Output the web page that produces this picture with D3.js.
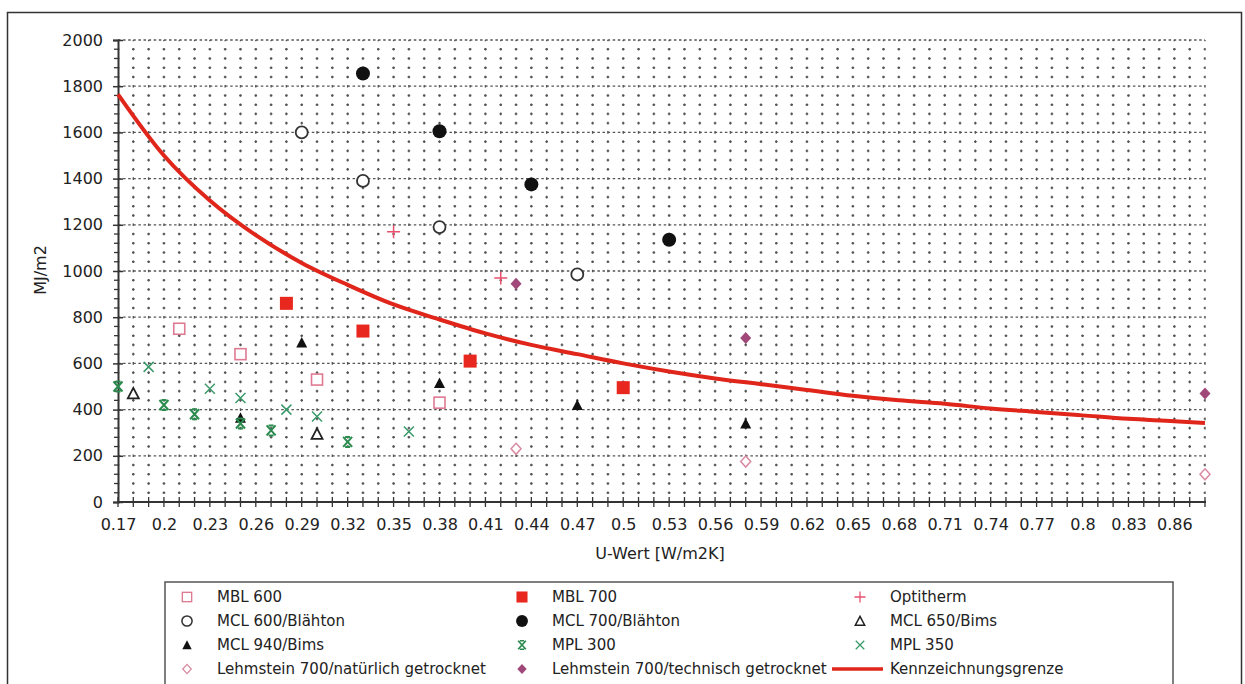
<!DOCTYPE html>
<html>
<head>
<meta charset="utf-8">
<script src="https://cdn.jsdelivr.net/npm/d3@7"></script>
<style>
body { margin: 0; background: #fff; }
text { font-family: "DejaVu Sans", sans-serif; fill: #222; }
</style>
</head>
<body>
<script>
// values
var mbl600U = [0.21, 0.25, 0.30, 0.38];
var mbl600E = [750, 640, 530, 430];
var mbl700U = [0.28, 0.33, 0.40, 0.50];
var mbl700E = [860, 740, 610, 495];
var optiU = [0.35, 0.42];
var optiE = [1170, 970];
var mcl600U = [0.29, 0.33, 0.38, 0.47];
var mcl600E = [1600, 1390, 1190, 985];
var mcl700U = [0.33, 0.38, 0.44, 0.53];
var mcl700E = [1855, 1605, 1375, 1135];
var mcl650U = [0.18, 0.30];
var mcl650E = [470, 295];
var mcl940U = [0.25, 0.29, 0.38, 0.47, 0.58];
var mcl940E = [365, 690, 515, 420, 340];
var mpl300U = [0.17, 0.20, 0.22, 0.25, 0.27, 0.32];
var mpl300E = [500, 420, 380, 340, 310, 260];
var mpl350U = [0.19, 0.23, 0.25, 0.28, 0.30, 0.36];
var mpl350E = [585, 490, 450, 400, 370, 305];
var lehmNatU = [0.43, 0.58, 0.88];
var lehmNatE = [230, 175, 120];
var lehmTechU = [0.43, 0.58, 0.88];
var lehmTechE = [945, 710, 470];
// Kennzeichnungsgrenze read at the ticks
var grenzeU = [0.17, 0.20, 0.23, 0.26, 0.29, 0.32, 0.35, 0.38, 0.41, 0.44, 0.47, 0.50, 0.53, 0.56, 0.59, 0.62, 0.65, 0.68, 0.71, 0.74, 0.77, 0.80, 0.83, 0.86, 0.88];
var grenzeE = [1765, 1500, 1305, 1155, 1035, 940, 855, 790, 730, 680, 640, 600, 565, 535, 510, 485, 460, 440, 425, 405, 390, 375, 360, 350, 342];
var xTicks = ["0.17","0.2","0.23","0.26","0.29","0.32","0.35","0.38","0.41","0.44","0.47","0.5","0.53","0.56","0.59","0.62","0.65","0.68","0.71","0.74","0.77","0.8","0.83","0.86"];
var yTicks = [0, 200, 400, 600, 800, 1000, 1200, 1400, 1600, 1800, 2000];

var width = 1245, height = 684;
var svg = d3.select("body").append("svg").attr("width", width).attr("height", height);

// outer frame
svg.append("rect").attr("x", 7.5).attr("y", 12.5).attr("width", 1234).attr("height", 690)
  .attr("fill", "none").attr("stroke", "#333").attr("stroke-width", 1.5);

var x = d3.scaleLinear().domain([0.17, 0.88]).range([118, 1205]);
var y = d3.scaleLinear().domain([0, 2000]).range([502, 40]);

var colStep = x(0.18) - x(0.17);
var rowStep = y(0) - y(40);

// grid: dots on the 0.01 verticals at every 40 row, plus dashed majors
var g = svg.append("g");
var vGrid = d3.range(18, 89).map(function(d) { return d / 100; });
g.selectAll(".vg").data(vGrid).enter().append("line")
  .attr("x1", d => x(d)).attr("x2", d => x(d)).attr("y1", y(2000)).attr("y2", y(0))
  .attr("stroke", "#555").attr("stroke-width", 1.4)
  .attr("stroke-dasharray", "2.6," + (rowStep - 2.6)).attr("stroke-dashoffset", 1.3);
var hMinor = d3.range(40, 2000, 40).filter(d => d % 200 != 0);
g.selectAll(".hg").data(hMinor).enter().append("line")
  .attr("x1", x(0.17)).attr("x2", x(0.88)).attr("y1", d => y(d)).attr("y2", d => y(d))
  .attr("stroke", "#555").attr("stroke-width", 1.4)
  .attr("stroke-dasharray", "2.6," + (colStep - 2.6)).attr("stroke-dashoffset", 1.3);
g.selectAll(".hm").data(yTicks.slice(1)).enter().append("line")
  .attr("x1", x(0.17)).attr("x2", x(0.88)).attr("y1", d => y(d)).attr("y2", d => y(d))
  .attr("stroke", "#555").attr("stroke-width", 1.3).attr("stroke-dasharray", "2.5,2.6");

// axes
var yAxis = d3.axisLeft(y).tickValues(yTicks).tickFormat(d3.format("d")).tickSize(5);
var ya = svg.append("g").attr("transform", "translate(118,0)").call(yAxis);
ya.select(".domain").attr("stroke", "#333").attr("stroke-width", 2);
ya.selectAll(".tick line").attr("x2", 5).attr("x1", -5).attr("stroke", "#333").attr("stroke-width", 1.5);
ya.selectAll("text").style("font-size", "16px").attr("x", -15);
ya.selectAll(".mt").data(hMinor).enter().append("line").attr("class", "mt")
  .attr("x1", -4).attr("x2", 0).attr("y1", d => y(d)).attr("y2", d => y(d)).attr("stroke", "#333").attr("stroke-width", 1.3);

var xAxis = d3.axisBottom(x).tickValues(xTicks.map(Number)).tickFormat((d, i) => xTicks[i]).tickSize(5).tickPadding(12);
var xa = svg.append("g").attr("transform", "translate(0,502)").call(xAxis);
xa.select(".domain").remove();
xa.append("line").attr("x1", 118).attr("x2", 1206).attr("stroke", "#333").attr("stroke-width", 2);
xa.selectAll(".tick line").remove();
xa.selectAll(".xt").data(vGrid.concat([0.17])).enter().append("line")
  .attr("x1", d => x(d)).attr("x2", d => x(d)).attr("y1", -5).attr("y2", 5).attr("stroke", "#333").attr("stroke-width", 1.3);
xa.selectAll("text").style("font-size", "16px");

svg.append("text").attr("transform", "translate(46,270) rotate(-90)").attr("text-anchor", "middle")
  .style("font-size", "16px").text("MJ/m2");
svg.append("text").attr("x", 660).attr("y", 559).attr("text-anchor", "middle")
  .style("font-size", "16px").text("U-Wert [W/m2K]");

// curve
var line = d3.line().x(d => x(d[0])).y(d => y(d[1])).curve(d3.curveMonotoneX);
svg.append("path").datum(grenzeU.map((u, i) => [u, grenzeE[i]]))
  .attr("d", line).attr("fill", "none").attr("stroke", "#e0261b").attr("stroke-width", 4);

// marker drawing
function marker(sel, type, col) {
  if (type == "sqOpen") sel.append("rect").attr("x", -5.5).attr("y", -5.5).attr("width", 11).attr("height", 11).attr("fill", "#fff").attr("stroke", col).attr("stroke-width", 1.6);
  if (type == "sqFill") sel.append("rect").attr("x", -6.5).attr("y", -6.5).attr("width", 13).attr("height", 13).attr("fill", col);
  if (type == "plus") sel.append("path").attr("d", "M-6.5,0H6.5M0,-6.5V6.5").attr("stroke", col).attr("stroke-width", 1.5);
  if (type == "circOpen") sel.append("circle").attr("r", 6).attr("fill", "#fff").attr("stroke", col).attr("stroke-width", 1.8);
  if (type == "circFill") sel.append("circle").attr("r", 7).attr("fill", col);
  if (type == "triOpen") sel.append("path").attr("d", "M0,-5.5L5.5,5L-5.5,5Z").attr("fill", "#fff").attr("stroke", col).attr("stroke-width", 1.8);
  if (type == "triFill") sel.append("path").attr("d", "M0,-5.5L5.5,5L-5.5,5Z").attr("fill", col);
  if (type == "xBold") sel.append("path").attr("d", "M-4.5,-5L4.5,5M4.5,-5L-4.5,5M-2.5,-5H2.5M-2.5,5H2.5").attr("stroke", col).attr("stroke-width", 2);
  if (type == "x") sel.append("path").attr("d", "M-5,-5L5,5M5,-5L-5,5").attr("stroke", col).attr("stroke-width", 1.5);
  if (type == "diaOpen") sel.append("path").attr("d", "M0,-5.5L5,0L0,5.5L-5,0Z").attr("fill", "#fff").attr("stroke", col).attr("stroke-width", 1.5);
  if (type == "diaFill") sel.append("path").attr("d", "M0,-6L5.5,0L0,6L-5.5,0Z").attr("fill", col);
}

var series = [
  { name: "MBL 600", u: mbl600U, e: mbl600E, type: "sqOpen", col: "#e07a92" },
  { name: "MBL 700", u: mbl700U, e: mbl700E, type: "sqFill", col: "#e8271e" },
  { name: "Optitherm", u: optiU, e: optiE, type: "plus", col: "#e8506e" },
  { name: "MCL 600/Blähton", u: mcl600U, e: mcl600E, type: "circOpen", col: "#333" },
  { name: "MCL 700/Blähton", u: mcl700U, e: mcl700E, type: "circFill", col: "#111" },
  { name: "MCL 650/Bims", u: mcl650U, e: mcl650E, type: "triOpen", col: "#222" },
  { name: "MCL 940/Bims", u: mcl940U, e: mcl940E, type: "triFill", col: "#111" },
  { name: "MPL 300", u: mpl300U, e: mpl300E, type: "xBold", col: "#2b8a4e" },
  { name: "MPL 350", u: mpl350U, e: mpl350E, type: "x", col: "#3a9a6a" },
  { name: "Lehmstein 700/natürlich getrocknet", u: lehmNatU, e: lehmNatE, type: "diaOpen", col: "#d98aa2" },
  { name: "Lehmstein 700/technisch getrocknet", u: lehmTechU, e: lehmTechE, type: "diaFill", col: "#a0487a" }
];

series.forEach(function(s) {
  var pts = svg.append("g").selectAll("g").data(s.u.map((u, i) => [u, s.e[i]])).enter().append("g")
    .attr("transform", d => "translate(" + x(d[0]) + "," + y(d[1]) + ")");
  pts.each(function() { marker(d3.select(this), s.type, s.col); });
});

// legend
svg.append("rect").attr("x", 165).attr("y", 582).attr("width", 1008).attr("height", 130)
  .attr("fill", "#fff").attr("stroke", "#555").attr("stroke-width", 1.5);
var colX = [187, 522, 860];
var rowY = [597, 621, 645, 669];
var legItems = series.concat([{ name: "Kennzeichnungsgrenze", type: "line", col: "#e0261b" }]);
legItems.forEach(function(s, i) {
  var cx = colX[i % 3], cy = rowY[Math.floor(i / 3)];
  var lg = svg.append("g").attr("transform", "translate(" + cx + "," + cy + ")");
  if (s.type == "line") {
    lg.append("line").attr("x1", -28).attr("x2", 23).attr("stroke", s.col).attr("stroke-width", 3.5);
  } else {
    var m = lg.append("g").attr("transform", "scale(0.85)");
    marker(m, s.type, s.col);
  }
  lg.append("text").attr("x", 30).attr("dy", "0.35em").style("font-size", "15px").text(s.name);
});
</script>
</body>
</html>
